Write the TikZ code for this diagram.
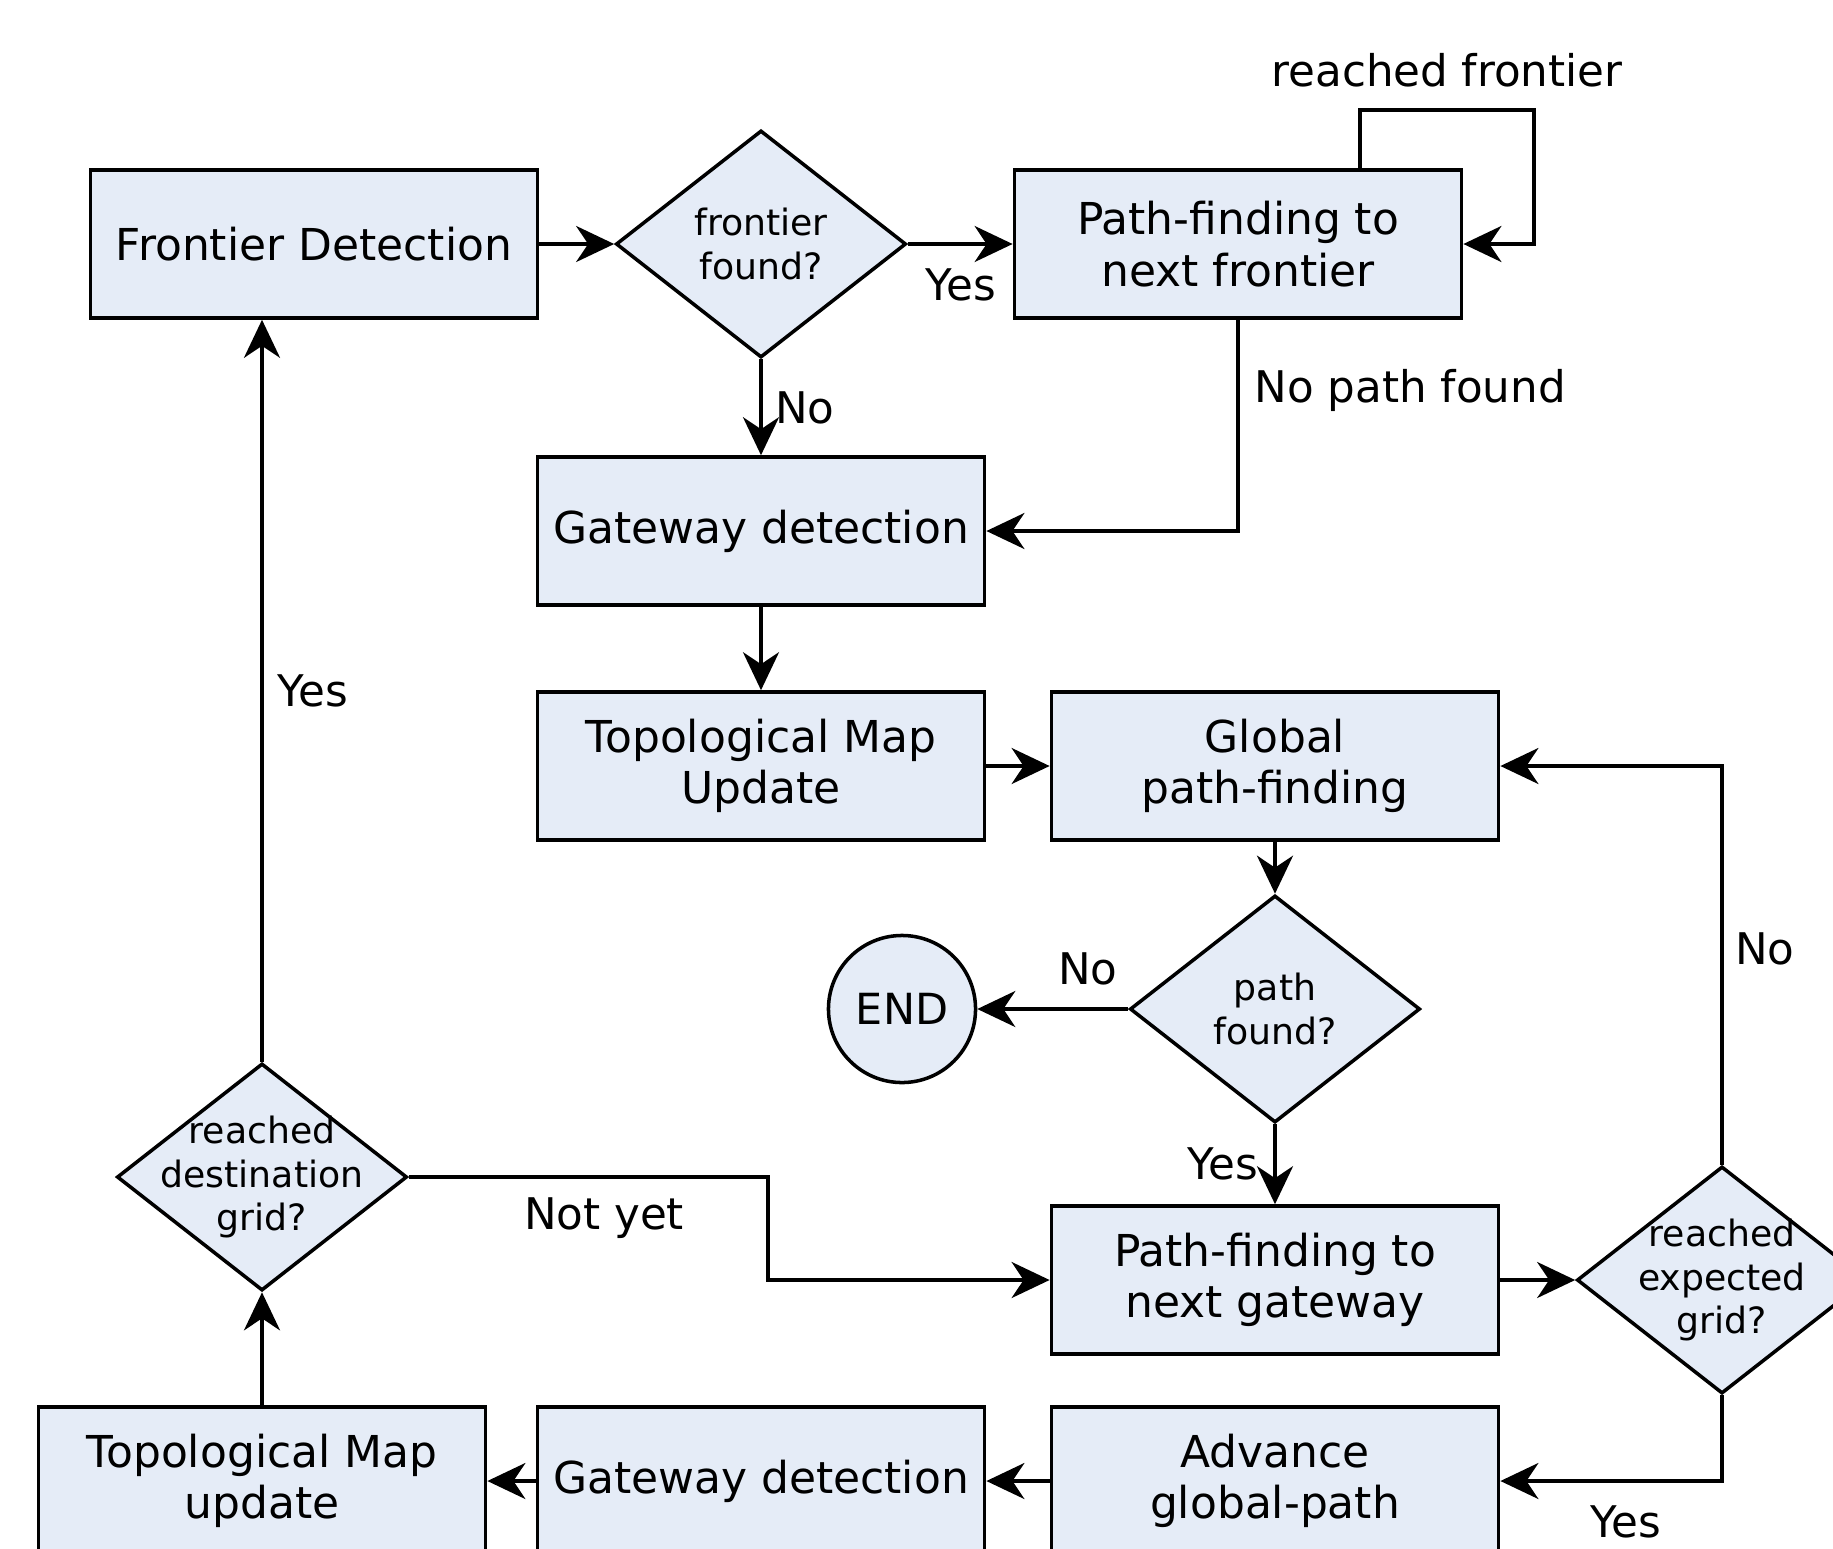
\documentclass[tikz,border=0pt]{standalone}
\usepackage{fontspec}
\setmainfont{DejaVu Sans}
\usetikzlibrary{shapes.geometric,arrows.meta}
\definecolor{boxfill}{RGB}{229,236,247}

\begin{document}
\begin{tikzpicture}[x=0.01cm, y=-0.01cm, line width=1pt,
  block/.style={rectangle, draw, fill=boxfill, minimum width=4.47cm, minimum height=1.48cm, align=center, font=\fontsize{12.5}{14.7}\selectfont},
  decision/.style={diamond, draw, fill=boxfill, minimum width=2.9cm, minimum height=2.27cm, inner sep=0pt},
  qtext/.style={align=center, font=\fontsize{10.3}{12.3}\selectfont},
  lbl/.style={font=\fontsize{12.4}{14.6}\selectfont, inner sep=0pt},
  >={Stealth[length=3.8mm, width=3.6mm, inset=1.2mm]}]
\useasboundingbox (0,0) rectangle (1833,1548);

\node[block] (fd) at (314,244) {Frontier Detection};
\node[decision] (ff) at (761,244) {};
\node[qtext] (fft) at (ff) {frontier\\found?};
\node[block] (pf) at (1238,244) {Path-finding to\\next frontier};
\node[block] (gd) at (761,531) {Gateway detection};
\node[block] (tm) at (761,766) {Topological Map\\Update};
\node[block] (gp) at (1275,766) {Global\\path-finding};
\node[decision] (pq) at (1275,1009) {};
\node[qtext] (pqt) at (pq) {path\\found?};
\node[circle, draw, fill=boxfill, minimum size=1.47cm, inner sep=0pt, font=\fontsize{12.2}{14}\selectfont] (end) at (902,1009) {END};
\node[block] (pg) at (1275,1280) {Path-finding to\\next gateway};
\node[decision] (eg) at (1722,1280) {};
\node[qtext] (egt) at (eg) {reached\\expected\\grid?};
\node[block] (ag) at (1275,1481) {Advance\\global-path};
\node[block] (gd2) at (761,1481) {Gateway detection};
\node[block] (tm2) at (262,1481) {Topological Map\\update};
\node[decision] (dg) at (262,1177) {};
\node[qtext] (dgt) at (dg) {reached\\destination\\grid?};

\coordinate (loopa) at (1360,110);
\coordinate (loopb) at (1534,110);
\coordinate (nybend) at (768,1177);

\node[lbl] (rf) at (1447,70) {reached frontier};
\node[lbl] (yes1) at (961,285) {Yes};
\node[lbl] (no1) at (805,408) {No};
\node[lbl, anchor=west] (npf) at (1253,390) {No path found};
\node[lbl] (yes2) at (313,691) {Yes};
\node[lbl] (no2) at (1088,969) {No};
\node[lbl] (yes3) at (1223,1164) {Yes};
\node[lbl] (no3) at (1765,949) {No};
\node[lbl] (ny) at (604,1218) {Not yet};
\node[lbl] (yes4) at (1626,1522) {Yes};

\draw[->] (fd.east) -- (ff.west);
\draw[->] (ff.east) -- (pf.west);
\draw[->] (pf.north -| loopa) -- (loopa) -- (loopb) |- (pf.east);
\draw[->] (ff.south) -- (gd.north);
\draw[->] (pf.south) |- (gd.east);
\draw[->] (gd.south) -- (tm.north);
\draw[->] (tm.east) -- (gp.west);
\draw[->] (gp.south) -- (pq.north);
\draw[->] (pq.west) -- (end.east);
\draw[->] (pq.south) -- (pg.north);
\draw[->] (pg.east) -- (eg.west);
\draw[->] (eg.north) |- (gp.east);
\draw[->] (eg.south) |- (ag.east);
\draw[->] (ag.west) -- (gd2.east);
\draw[->] (gd2.west) -- (tm2.east);
\draw[->] (tm2.north) -- (dg.south);
\draw[->] (dg.north) -- (dg.north |- fd.south);
\draw[->] (dg.east) -- (nybend) |- (pg.west);
\end{tikzpicture}
\end{document}
